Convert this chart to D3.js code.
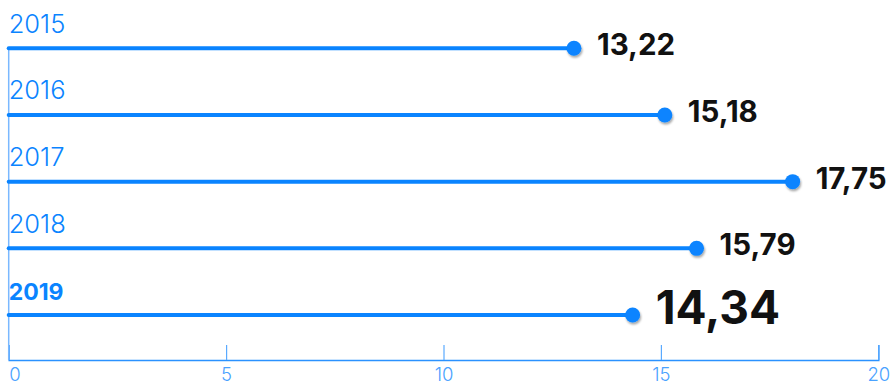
<!DOCTYPE html>
<html><head><meta charset="utf-8">
<script src="https://cdn.jsdelivr.net/npm/d3@7"></script>
<style>body{margin:0;background:#fff;}svg{display:block;font-family:Inter,"Open Sans",sans-serif;}</style>
</head><body><svg id="c" width="893" height="386"></svg>
<script>
const years = ["2015","2016","2017","2018","2019"];
const valueLabels = ["13,22","15,18","17,75","15,79","14,34"];
const plotted = [13.0, 15.09, 18.03, 15.82, 14.35];
const ticks = [0,5,10,15,20];

const svg = d3.select("#c");
const x = d3.scaleLinear().domain([0,20]).range([8.7,878.3]);
const y = d3.scalePoint().domain(years).range([48.3,315]);
const blue = "#0a84ff";

const defs = svg.append("defs");
const f = defs.append("filter").attr("id","sh").attr("x","-50%").attr("y","-50%").attr("width","200%").attr("height","200%");
f.append("feDropShadow").attr("dx",1).attr("dy",2).attr("stdDeviation",1.2).attr("flood-color","#000").attr("flood-opacity",0.35);

// axis
const ax = svg.append("g").attr("transform","translate(0,360)")
  .call(d3.axisBottom(x).tickValues(ticks).tickSize(-15).tickPadding(8).tickFormat(d3.format("d")));
ax.select(".domain").attr("stroke","#2b92ff").attr("stroke-width",1.5);
ax.selectAll(".tick line").attr("stroke","#5aaaff").attr("stroke-width",1.2);
ax.selectAll(".tick text").attr("fill","#4aa2ff").attr("font-size",18.5).attr("font-weight",300).attr("font-family","Inter, sans-serif");
ax.selectAll(".tick text").filter(d=>d===0).attr("text-anchor","start").attr("x",0);

// vertical axis
svg.append("line").attr("x1",x(0)).attr("x2",x(0)).attr("y1",y(years[0])).attr("y2",360)
  .attr("stroke","#7ab8ff").attr("stroke-width",1.5);

const rows = svg.append("g").selectAll("g").data(years).join("g");
rows.append("line")
  .attr("x1",x(0)).attr("x2",(d,i)=>x(plotted[i]))
  .attr("y1",d=>y(d)).attr("y2",d=>y(d))
  .attr("stroke",blue).attr("stroke-width",4).attr("stroke-linecap","round");
rows.append("circle")
  .attr("cx",(d,i)=>x(plotted[i])).attr("cy",d=>y(d)).attr("r",7.5)
  .attr("fill",blue).attr("filter","url(#sh)");
rows.append("text")
  .attr("x",x(0)).attr("y",d=>y(d)-15.5)
  .attr("fill",blue)
  .attr("font-size",(d,i)=>i===4?23:25.5)
  .attr("font-weight",(d,i)=>i===4?700:300)
  .text(d=>d);
rows.append("text")
  .attr("x",(d,i)=>x(plotted[i])+23)
  .attr("y",(d,i)=>y(d)+(i===4?9:7))
  .attr("fill","#111")
  .attr("font-size",(d,i)=>i===4?46:29.5)
  .attr("font-weight",700)
  .text((d,i)=>valueLabels[i]);
</script></body></html>
